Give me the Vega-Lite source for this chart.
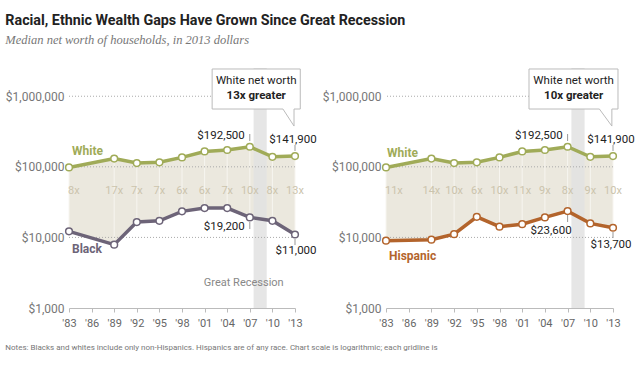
{
  "$schema": "https://vega.github.io/schema/vega-lite/v6.json",
  "padding": {"left": 5, "top": 14, "right": 0, "bottom": 0},
  "background": "white",
  "title": {
    "text": "Racial, Ethnic Wealth Gaps Have Grown Since Great Recession",
    "subtitle": "Median net worth of households, in 2013 dollars",
    "anchor": "start",
    "font": "Roboto",
    "fontSize": 14.3,
    "fontWeight": "bold",
    "color": "#222222",
    "subtitleFont": "Liberation Serif",
    "subtitleFontStyle": "italic",
    "subtitleFontSize": 12.5,
    "subtitleColor": "#777777",
    "subtitlePadding": 5,
    "offset": 22
  },
  "config": {
    "view": {"stroke": null},
    "font": "Roboto",
    "axisX": {"domainColor": "#bbbbbb", "tickColor": "#bbbbbb", "tickSize": 4, "labelColor": "#666666", "labelFontSize": 11, "grid": false, "labelPadding": 5, "labelOverlap": false, "labelFlush": false},
    "axisY": {"grid": false, "domain": false, "ticks": false, "labelColor": "#777777", "labelFontSize": 12, "labelPadding": 5}
  },
  "data": {"values": [
    {"year": 1983, "white": 98000, "black": 12200, "hispanic": 9000, "bRatio": "8x", "hRatio": "11x"},
    {"year": 1989, "white": 131000, "black": 7900, "hispanic": 9300, "bRatio": "17x", "hRatio": "14x"},
    {"year": 1992, "white": 113000, "black": 16500, "hispanic": 11100, "bRatio": "7x", "hRatio": "10x"},
    {"year": 1995, "white": 116000, "black": 17200, "hispanic": 19600, "bRatio": "7x", "hRatio": "6x"},
    {"year": 1998, "white": 136000, "black": 23400, "hispanic": 14200, "bRatio": "6x", "hRatio": "10x"},
    {"year": 2001, "white": 165000, "black": 26000, "hispanic": 15400, "bRatio": "6x", "hRatio": "11x"},
    {"year": 2004, "white": 173000, "black": 26000, "hispanic": 19200, "bRatio": "7x", "hRatio": "9x"},
    {"year": 2007, "white": 192500, "black": 19200, "hispanic": 23600, "bRatio": "10x", "hRatio": "8x"},
    {"year": 2010, "white": 138600, "black": 17200, "hispanic": 15800, "bRatio": "8x", "hRatio": "9x"},
    {"year": 2013, "white": 141900, "black": 11000, "hispanic": 13700, "bRatio": "13x", "hRatio": "10x"}
  ]},
  "vconcat": [
    {
      "title": {
        "text": "Notes: Blacks and whites include only non-Hispanics. Hispanics are of any race. Chart scale is logarithmic; each gridline is",
        "orient": "bottom",
        "anchor": "start",
        "font": "Roboto",
        "fontSize": 8,
        "fontWeight": "normal",
        "color": "#777777",
        "offset": 16
      },
      "spacing": 5,
      "hconcat": [
        {
          "width": 226,
          "height": 240,
          "layer": [
            {"mark": {"type": "area", "color": "#ebe8de"},
             "encoding": {
               "x": {"field": "year", "type": "quantitative", "scale": {"domain": [1983, 2013], "nice": false, "zero": false},
                     "axis": {"values": [1983, 1986, 1989, 1992, 1995, 1998, 2001, 2004, 2007, 2010, 2013], "tickCount": 20, "labelExpr": "\"'\" + substring(toString(datum.value), 2)", "labelOverlap": false, "labelFlush": false, "title": null}},
               "y": {"field": "white", "type": "quantitative", "scale": {"type": "log", "domain": [1000, 2511886], "nice": false},
                     "axis": {"values": [1000, 10000, 100000, 1000000], "format": "$,", "title": null}},
               "y2": {"field": "black"}}},
            {"mark": {"type": "rule", "color": "#f7f5f0", "strokeWidth": 1},
             "encoding": {"x": {"field": "year", "type": "quantitative"}, "y": {"field": "white", "type": "quantitative", "title": null}, "y2": {"field": "black"}}},
            {"data": {"values": [{}]}, "mark": {"type": "rect", "color": "#e2e2e2", "opacity": 0.85},
             "encoding": {"x": {"datum": 2007.5}, "x2": {"datum": 2009.25}}},
            {"data": {"values": [{"v": 10000}, {"v": 100000}, {"v": 1000000}]},
             "mark": {"type": "rule", "color": "#aaaaaa", "strokeDash": [1, 2]},
             "encoding": {"y": {"field": "v", "type": "quantitative", "title": null}}},
            {"transform": [{"filter": "datum.year > 1983"}],
             "mark": {"type": "text", "color": "#cbc4ad", "fontSize": 11, "dy": 2},
             "encoding": {"x": {"field": "year", "type": "quantitative"}, "y": {"datum": 48500}, "text": {"field": "bRatio"}}},
            {"transform": [{"filter": "datum.year == 1983"}],
             "mark": {"type": "text", "color": "#cbc4ad", "fontSize": 11, "align": "left", "dx": -1, "dy": 2},
             "encoding": {"x": {"field": "year", "type": "quantitative"}, "y": {"datum": 48500}, "text": {"field": "bRatio"}}},
            {"mark": {"type": "line", "color": "#a0ab58", "strokeWidth": 3.5},
             "encoding": {"x": {"field": "year", "type": "quantitative"}, "y": {"field": "white", "type": "quantitative", "title": null}}},
            {"mark": {"type": "line", "color": "#6d6478", "strokeWidth": 3.5},
             "encoding": {"x": {"field": "year", "type": "quantitative"}, "y": {"field": "black", "type": "quantitative", "title": null}}},
            {"mark": {"type": "point", "filled": true, "fill": "white", "stroke": "#a0ab58", "strokeWidth": 1.5, "size": 45, "opacity": 1},
             "encoding": {"x": {"field": "year", "type": "quantitative"}, "y": {"field": "white", "type": "quantitative", "title": null}}},
            {"mark": {"type": "point", "filled": true, "fill": "white", "stroke": "#6d6478", "strokeWidth": 1.5, "size": 45, "opacity": 1},
             "encoding": {"x": {"field": "year", "type": "quantitative"}, "y": {"field": "black", "type": "quantitative", "title": null}}},
            {"transform": [{"filter": "datum.year == 1983"}],
             "mark": {"type": "text", "text": "White", "align": "left", "dx": 3, "dy": -16, "fontWeight": "bold", "fontSize": 12, "color": "#a0ab58"},
             "encoding": {"x": {"field": "year", "type": "quantitative"}, "y": {"field": "white", "type": "quantitative", "title": null}}},
            {"transform": [{"filter": "datum.year == 1983"}],
             "mark": {"type": "text", "text": "Black", "align": "left", "dx": 3, "dy": 18, "fontWeight": "bold", "fontSize": 12, "color": "#6d6478"},
             "encoding": {"x": {"field": "year", "type": "quantitative"}, "y": {"field": "black", "type": "quantitative", "title": null}}},
            {"transform": [{"filter": "datum.year == 2007"}],
             "mark": {"type": "text", "align": "right", "dx": -5, "dy": -11, "fontSize": 11.5, "color": "#222222"},
             "encoding": {"x": {"field": "year", "type": "quantitative"}, "y": {"field": "white", "type": "quantitative", "title": null}, "text": {"field": "white", "format": "$,"}}},
            {"transform": [{"filter": "datum.year == 2013"}],
             "mark": {"type": "text", "align": "center", "dx": -2, "dy": -16, "fontSize": 11.5, "color": "#222222"},
             "encoding": {"x": {"field": "year", "type": "quantitative"}, "y": {"field": "white", "type": "quantitative", "title": null}, "text": {"field": "white", "format": "$,"}}},
            {"transform": [{"filter": "datum.year == 2007"}],
             "mark": {"type": "text", "align": "right", "dx": -5, "dy": 10, "fontSize": 11.5, "color": "#222222"},
             "encoding": {"x": {"field": "year", "type": "quantitative"}, "y": {"field": "black", "type": "quantitative", "title": null}, "text": {"field": "black", "format": "$,"}}},
            {"transform": [{"filter": "datum.year == 2013"}],
             "mark": {"type": "text", "align": "center", "dx": 1, "dy": 17, "fontSize": 11.5, "color": "#222222"},
             "encoding": {"x": {"field": "year", "type": "quantitative"}, "y": {"field": "black", "type": "quantitative", "title": null}, "text": {"field": "black", "format": "$,"}}},
            {"data": {"values": [{}]}, "mark": {"type": "rule", "color": "#999999"},
             "encoding": {"x": {"datum": 2007}, "y": {"datum": 291700}, "y2": {"datum": 232200}}},
            {"data": {"values": [{}]}, "mark": {"type": "rule", "color": "#999999"},
             "encoding": {"x": {"datum": 2013}, "y": {"datum": 203700}, "y2": {"datum": 167500}}},
            {"data": {"values": [{}]}, "mark": {"type": "rule", "color": "#999999"},
             "encoding": {"x": {"datum": 2007}, "y": {"datum": 16530}, "y2": {"datum": 13150}}},
            {"data": {"values": [{}]}, "mark": {"type": "rule", "color": "#999999"},
             "encoding": {"x": {"datum": 2013}, "y": {"datum": 9490}, "y2": {"datum": 7800}}},
            {"data": {"values": [{}]}, "mark": {"type": "rect", "fill": "white", "stroke": "#bbbbbb", "strokeWidth": 1},
             "encoding": {"x": {"datum": 2002.0}, "x2": {"datum": 2013.7}, "y": {"datum": 2432000}, "y2": {"datum": 659000}}},
            {"data": {"values": [{}]}, "mark": {"type": "rule", "color": "white", "strokeWidth": 2},
             "encoding": {"x": {"datum": 2011.4}, "x2": {"datum": 2012.87}, "y": {"datum": 659000}}},
            {"data": {"values": [{}]}, "mark": {"type": "rule", "color": "#bbbbbb"},
             "encoding": {"x": {"datum": 2011.4}, "x2": {"datum": 2012.87}, "y": {"datum": 659000}, "y2": {"datum": 378000}}},
            {"data": {"values": [{}]}, "mark": {"type": "rule", "color": "#bbbbbb"},
             "encoding": {"x": {"datum": 2012.87}, "y": {"datum": 659000}, "y2": {"datum": 378000}}},
            {"data": {"values": [{}]}, "mark": {"type": "text", "text": "White net worth", "fontSize": 11.5, "color": "#222222"},
             "encoding": {"x": {"datum": 2007.85}, "y": {"datum": 1644000}}},
            {"data": {"values": [{}]}, "mark": {"type": "text", "text": "13x greater", "fontSize": 11.5, "fontWeight": "bold", "color": "#222222"},
             "encoding": {"x": {"datum": 2007.85}, "y": {"datum": 1007000}}},
            {"data": {"values": [{}]}, "mark": {"type": "text", "text": "Great Recession", "fontSize": 11, "color": "#888888"},
             "encoding": {"x": {"datum": 2006.2}, "y": {"datum": 2260}}}
          ]
        },
        {
          "width": 227,
          "height": 240,
          "layer": [
            {"mark": {"type": "area", "color": "#ebe8de"},
             "encoding": {
               "x": {"field": "year", "type": "quantitative", "scale": {"domain": [1983, 2013], "nice": false, "zero": false},
                     "axis": {"values": [1983, 1986, 1989, 1992, 1995, 1998, 2001, 2004, 2007, 2010, 2013], "tickCount": 20, "labelExpr": "\"'\" + substring(toString(datum.value), 2)", "labelOverlap": false, "labelFlush": false, "title": null}},
               "y": {"field": "white", "type": "quantitative", "scale": {"type": "log", "domain": [1000, 2511886], "nice": false},
                     "axis": {"values": [1000, 10000, 100000, 1000000], "format": "$,", "title": null}},
               "y2": {"field": "hispanic"}}},
            {"mark": {"type": "rule", "color": "#f7f5f0", "strokeWidth": 1},
             "encoding": {"x": {"field": "year", "type": "quantitative"}, "y": {"field": "white", "type": "quantitative", "title": null}, "y2": {"field": "hispanic"}}},
            {"data": {"values": [{}]}, "mark": {"type": "rect", "color": "#e2e2e2", "opacity": 0.85},
             "encoding": {"x": {"datum": 2007.5}, "x2": {"datum": 2009.25}}},
            {"data": {"values": [{"v": 10000}, {"v": 100000}, {"v": 1000000}]},
             "mark": {"type": "rule", "color": "#aaaaaa", "strokeDash": [1, 2]},
             "encoding": {"y": {"field": "v", "type": "quantitative", "title": null}}},
            {"transform": [{"filter": "datum.year > 1983"}],
             "mark": {"type": "text", "color": "#cbc4ad", "fontSize": 11, "dy": 2},
             "encoding": {"x": {"field": "year", "type": "quantitative"}, "y": {"datum": 48500}, "text": {"field": "hRatio"}}},
            {"transform": [{"filter": "datum.year == 1983"}],
             "mark": {"type": "text", "color": "#cbc4ad", "fontSize": 11, "align": "left", "dx": -1, "dy": 2},
             "encoding": {"x": {"field": "year", "type": "quantitative"}, "y": {"datum": 48500}, "text": {"field": "hRatio"}}},
            {"mark": {"type": "line", "color": "#a0ab58", "strokeWidth": 3.5},
             "encoding": {"x": {"field": "year", "type": "quantitative"}, "y": {"field": "white", "type": "quantitative", "title": null}}},
            {"mark": {"type": "line", "color": "#b3642c", "strokeWidth": 3.5},
             "encoding": {"x": {"field": "year", "type": "quantitative"}, "y": {"field": "hispanic", "type": "quantitative", "title": null}}},
            {"mark": {"type": "point", "filled": true, "fill": "white", "stroke": "#a0ab58", "strokeWidth": 1.5, "size": 45, "opacity": 1},
             "encoding": {"x": {"field": "year", "type": "quantitative"}, "y": {"field": "white", "type": "quantitative", "title": null}}},
            {"mark": {"type": "point", "filled": true, "fill": "white", "stroke": "#b3642c", "strokeWidth": 1.5, "size": 45, "opacity": 1},
             "encoding": {"x": {"field": "year", "type": "quantitative"}, "y": {"field": "hispanic", "type": "quantitative", "title": null}}},
            {"transform": [{"filter": "datum.year == 1983"}],
             "mark": {"type": "text", "text": "White", "align": "left", "dx": 1, "dy": -14, "fontWeight": "bold", "fontSize": 12, "color": "#a0ab58"},
             "encoding": {"x": {"field": "year", "type": "quantitative"}, "y": {"field": "white", "type": "quantitative", "title": null}}},
            {"transform": [{"filter": "datum.year == 1983"}],
             "mark": {"type": "text", "text": "Hispanic", "align": "left", "dx": 3, "dy": 15, "fontWeight": "bold", "fontSize": 12, "color": "#b3642c"},
             "encoding": {"x": {"field": "year", "type": "quantitative"}, "y": {"field": "hispanic", "type": "quantitative", "title": null}}},
            {"transform": [{"filter": "datum.year == 2007"}],
             "mark": {"type": "text", "align": "right", "dx": -5, "dy": -11, "fontSize": 11.5, "color": "#222222"},
             "encoding": {"x": {"field": "year", "type": "quantitative"}, "y": {"field": "white", "type": "quantitative", "title": null}, "text": {"field": "white", "format": "$,"}}},
            {"transform": [{"filter": "datum.year == 2013"}],
             "mark": {"type": "text", "align": "center", "dx": -2, "dy": -16, "fontSize": 11.5, "color": "#222222"},
             "encoding": {"x": {"field": "year", "type": "quantitative"}, "y": {"field": "white", "type": "quantitative", "title": null}, "text": {"field": "white", "format": "$,"}}},
            {"transform": [{"filter": "datum.year == 2007"}],
             "mark": {"type": "text", "align": "right", "dx": 4, "dy": 20, "fontSize": 11.5, "color": "#222222"},
             "encoding": {"x": {"field": "year", "type": "quantitative"}, "y": {"field": "hispanic", "type": "quantitative", "title": null}, "text": {"field": "hispanic", "format": "$,"}}},
            {"transform": [{"filter": "datum.year == 2013"}],
             "mark": {"type": "text", "align": "center", "dx": -2, "dy": 17, "fontSize": 11.5, "color": "#222222"},
             "encoding": {"x": {"field": "year", "type": "quantitative"}, "y": {"field": "hispanic", "type": "quantitative", "title": null}, "text": {"field": "hispanic", "format": "$,"}}},
            {"data": {"values": [{}]}, "mark": {"type": "rule", "color": "#999999"},
             "encoding": {"x": {"datum": 2007}, "y": {"datum": 291700}, "y2": {"datum": 232200}}},
            {"data": {"values": [{}]}, "mark": {"type": "rule", "color": "#999999"},
             "encoding": {"x": {"datum": 2013}, "y": {"datum": 203700}, "y2": {"datum": 167500}}},
            {"data": {"values": [{}]}, "mark": {"type": "rule", "color": "#999999"},
             "encoding": {"x": {"datum": 2007}, "y": {"datum": 20770}, "y2": {"datum": 16530}}},
            {"data": {"values": [{}]}, "mark": {"type": "rule", "color": "#999999"},
             "encoding": {"x": {"datum": 2013}, "y": {"datum": 11930}, "y2": {"datum": 9800}}},
            {"data": {"values": [{}]}, "mark": {"type": "rect", "fill": "white", "stroke": "#bbbbbb", "strokeWidth": 1},
             "encoding": {"x": {"datum": 2001.9}, "x2": {"datum": 2013.66}, "y": {"datum": 2432000}, "y2": {"datum": 659000}}},
            {"data": {"values": [{}]}, "mark": {"type": "rule", "color": "white", "strokeWidth": 2},
             "encoding": {"x": {"datum": 2011.2}, "x2": {"datum": 2012.85}, "y": {"datum": 659000}}},
            {"data": {"values": [{}]}, "mark": {"type": "rule", "color": "#bbbbbb"},
             "encoding": {"x": {"datum": 2011.2}, "x2": {"datum": 2012.85}, "y": {"datum": 659000}, "y2": {"datum": 378000}}},
            {"data": {"values": [{}]}, "mark": {"type": "rule", "color": "#bbbbbb"},
             "encoding": {"x": {"datum": 2012.85}, "y": {"datum": 659000}, "y2": {"datum": 378000}}},
            {"data": {"values": [{}]}, "mark": {"type": "text", "text": "White net worth", "fontSize": 11.5, "color": "#222222"},
             "encoding": {"x": {"datum": 2007.8}, "y": {"datum": 1644000}}},
            {"data": {"values": [{}]}, "mark": {"type": "text", "text": "10x greater", "fontSize": 11.5, "fontWeight": "bold", "color": "#222222"},
             "encoding": {"x": {"datum": 2007.8}, "y": {"datum": 1007000}}}
          ]
        }
      ]
    }
  ]
}
